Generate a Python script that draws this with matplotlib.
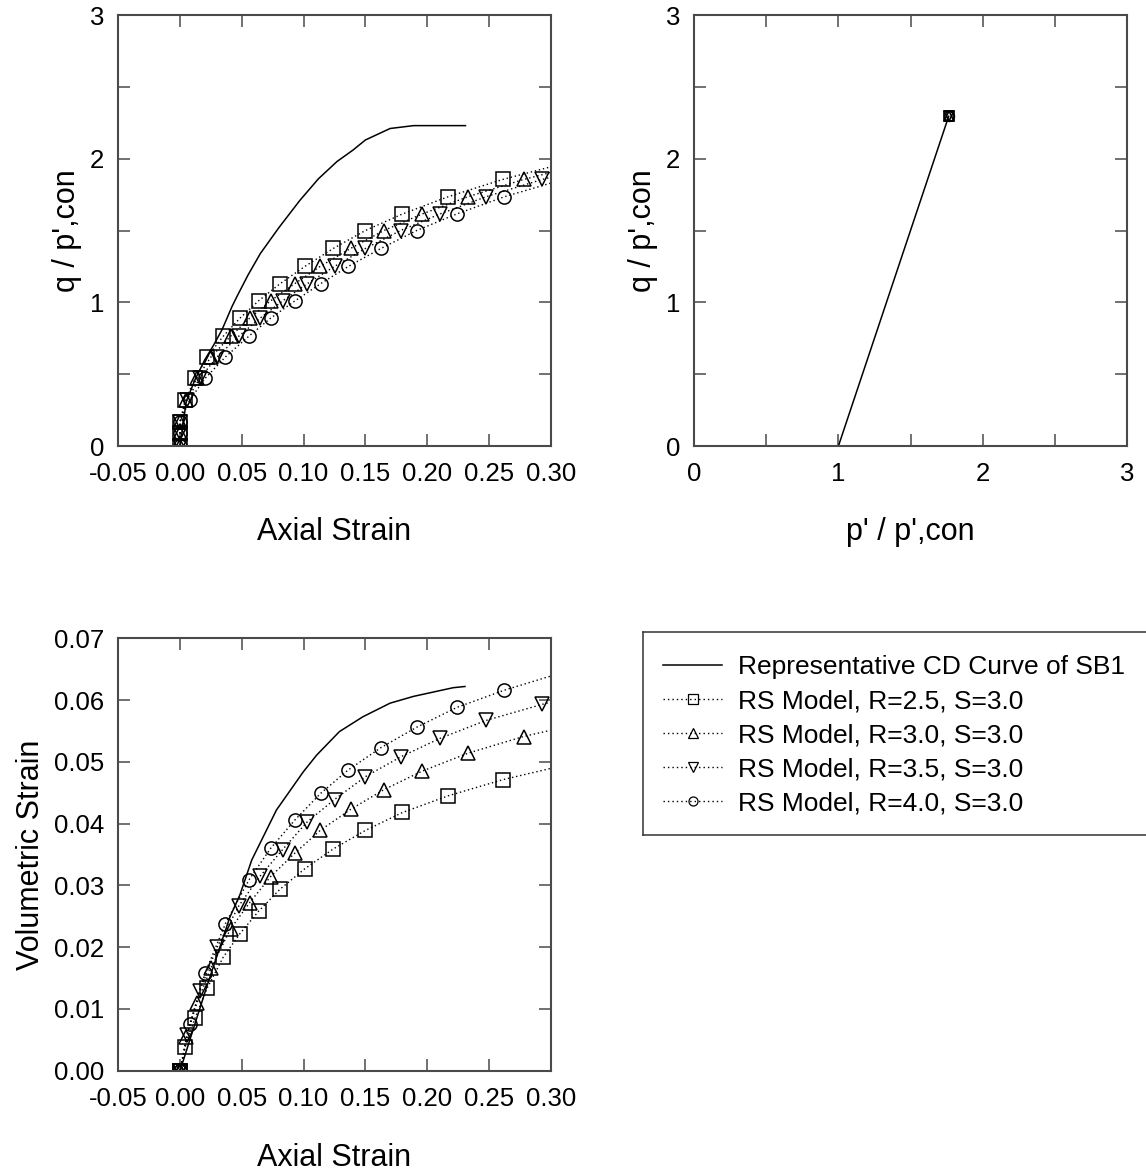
import matplotlib
matplotlib.use("Agg")
import matplotlib.pyplot as plt
from matplotlib.lines import Line2D
from matplotlib.ticker import MultipleLocator, FormatStrFormatter

plt.rcParams['font.family'] = ['Liberation Sans', 'DejaVu Sans']
plt.rcParams['axes.unicode_minus'] = False

# ---- Representative CD curve of SB1 ----
cd_strain_q = [0, 0.005, 0.012, 0.020, 0.027, 0.034, 0.042, 0.046, 0.055, 0.065,
               0.080, 0.097, 0.112, 0.127, 0.140, 0.150, 0.170, 0.189, 0.231]
cd_q = [0, 0.31, 0.46, 0.60, 0.70, 0.81, 0.97, 1.04, 1.19, 1.34,
        1.52, 1.71, 1.86, 1.98, 2.06, 2.13, 2.21, 2.23, 2.23]

cd_strain_v = [0, 0.010, 0.0216, 0.035, 0.0404, 0.0485, 0.058, 0.078, 0.0998,
               0.1106, 0.129, 0.148, 0.170, 0.189, 0.221, 0.2306]
cd_vol = [0, 0.0063, 0.0136, 0.0217, 0.0249, 0.0285, 0.0341, 0.0422, 0.0484,
          0.0511, 0.0549, 0.0573, 0.0595, 0.0606, 0.0620, 0.0622]

cd_p = [1.0, 1.765]
cd_pq = [0.0, 2.295]

# ---- RS model runs (S = 3.0) ----
q_levels = [0, 0.09, 0.17, 0.32, 0.47, 0.62, 0.765, 0.89, 1.01, 1.13, 1.25,
            1.375, 1.50, 1.615, 1.735, 1.855, 1.97]

strain_r25 = [0, 0, 0, 0.0042, 0.0121, 0.022, 0.035, 0.0485, 0.0635, 0.081, 0.101,
              0.124, 0.150, 0.180, 0.217, 0.261, 0.312]
strain_r30 = [0, 0, 0, 0.0052, 0.0135, 0.025, 0.041, 0.0563, 0.0732, 0.0928, 0.1134,
              0.138, 0.165, 0.196, 0.233, 0.278, 0.330]
strain_r35 = [0, 0, 0, 0.0057, 0.0158, 0.030, 0.0476, 0.0648, 0.083, 0.103, 0.125,
              0.150, 0.1785, 0.2104, 0.2476, 0.293, 0.345]
strain_r40 = [0, 0, 0, 0.0078, 0.0202, 0.0367, 0.0558, 0.0733, 0.093, 0.1138, 0.1362,
              0.1626, 0.1915, 0.2239, 0.2625, 0.310]

vol_r25 = [0, 0, 0, 0.0039, 0.0085, 0.0134, 0.0184, 0.0222, 0.0258, 0.0294, 0.0327,
           0.0359, 0.0389, 0.0418, 0.0445, 0.0471, 0.0495]
vol_r30 = [0, 0, 0, 0.0055, 0.0109, 0.0166, 0.0230, 0.0272, 0.0314, 0.0352, 0.0389,
           0.0423, 0.0455, 0.0485, 0.0514, 0.0541, 0.0565]
vol_r35 = [0, 0, 0, 0.0058, 0.0129, 0.0200, 0.0267, 0.0315, 0.0358, 0.0403, 0.0439,
           0.0476, 0.0508, 0.0538, 0.0567, 0.0593, 0.0620]
vol_r40 = [0, 0, 0, 0.0075, 0.0158, 0.0238, 0.0309, 0.0360, 0.0406, 0.0449, 0.0487,
           0.0523, 0.0556, 0.0588, 0.0616, 0.0645]

# final stress state in p'-q space
p_final = [1.765, 1.765, 1.765, 1.765]
q_final = [2.295, 2.295, 2.295, 2.295]

labels = ["RS Model, R=2.5, S=3.0", "RS Model, R=3.0, S=3.0",
          "RS Model, R=3.5, S=3.0", "RS Model, R=4.0, S=3.0"]
markers = ['s', '^', 'v', 'o']
strains = [strain_r25, strain_r30, strain_r35, strain_r40]
vols = [vol_r25, vol_r30, vol_r35, vol_r40]

FRAME = '#4a4a4a'
DOT = (0, (1, 2.0))
TICK_FS = 18.5
LABEL_FS = 22

W, H = 1146, 1173
fig = plt.figure(figsize=(W / 100, H / 100), dpi=100)


def frac(left, top, right, bottom):
    return [left / W, 1 - bottom / H, (right - left) / W, (bottom - top) / H]


def style(ax):
    for s in ax.spines.values():
        s.set_color(FRAME)
        s.set_linewidth(1.5)
    ax.tick_params(which='both', direction='in', top=True, right=True,
                   length=8.5, width=1.1, color=FRAME, labelsize=TICK_FS)
    ax.tick_params(axis='x', which='both', pad=11.5)
    ax.tick_params(axis='y', which='both', pad=10)


# q vs axial strain
ax1 = fig.add_axes(frac(118.3, 15, 550.7, 446))
ax1.plot(cd_strain_q, cd_q, color='black', lw=1.1)
for st, m in zip(strains, markers):
    ax1.plot(st, q_levels[:len(st)], color='black', lw=1.0, ls=DOT, marker=m,
             ms=9.5, mfc='none', mec='black', mew=1.1)
ax1.set_xlim(-0.05, 0.30)
ax1.set_ylim(0, 3)
ax1.xaxis.set_major_locator(MultipleLocator(0.05))
ax1.xaxis.set_major_formatter(FormatStrFormatter('%.2f'))
ax1.yaxis.set_major_locator(MultipleLocator(1))
ax1.yaxis.set_minor_locator(MultipleLocator(0.5))
style(ax1)
ax1.set_xlabel("Axial Strain", fontsize=LABEL_FS)
ax1.set_ylabel("q / p',con", fontsize=LABEL_FS)
ax1.xaxis.set_label_coords(0.5, -0.165)
ax1.yaxis.set_label_coords(-0.084, 0.5)

# q vs p'
ax2 = fig.add_axes(frac(694.3, 15, 1126.7, 446))
ax2.plot(cd_p, cd_pq, color='black', lw=1.1)
for pf, qf, m in zip(p_final, q_final, markers):
    ax2.plot([pf], [qf], ls='none', marker=m, ms=7, mfc='none', mec='black', mew=1.2)
ax2.set_xlim(0, 3)
ax2.set_ylim(0, 3)
ax2.xaxis.set_major_locator(MultipleLocator(1))
ax2.xaxis.set_minor_locator(MultipleLocator(0.5))
ax2.yaxis.set_major_locator(MultipleLocator(1))
ax2.yaxis.set_minor_locator(MultipleLocator(0.5))
style(ax2)
ax2.set_xlabel("p' / p',con", fontsize=LABEL_FS)
ax2.set_ylabel("q / p',con", fontsize=LABEL_FS)
ax2.xaxis.set_label_coords(0.5, -0.165)
ax2.yaxis.set_label_coords(-0.085, 0.5)

# volumetric strain vs axial strain
ax3 = fig.add_axes(frac(118.3, 638.3, 550.7, 1070.7))
ax3.plot(cd_strain_v, cd_vol, color='black', lw=1.1)
for st, v, m in zip(strains, vols, markers):
    ax3.plot(st, v, color='black', lw=1.0, ls=DOT, marker=m,
             ms=9.5, mfc='none', mec='black', mew=1.1)
ax3.set_xlim(-0.05, 0.30)
ax3.set_ylim(0, 0.07)
ax3.xaxis.set_major_locator(MultipleLocator(0.05))
ax3.xaxis.set_major_formatter(FormatStrFormatter('%.2f'))
ax3.yaxis.set_major_locator(MultipleLocator(0.01))
ax3.yaxis.set_major_formatter(FormatStrFormatter('%.2f'))
style(ax3)
ax3.set_xlabel("Axial Strain", fontsize=LABEL_FS)
ax3.set_ylabel("Volumetric Strain", fontsize=LABEL_FS)
ax3.xaxis.set_label_coords(0.5, -0.167)
ax3.yaxis.set_label_coords(-0.168, 0.5)

# legend panel (open on the right edge of the figure)
axl = fig.add_axes(frac(643, 632, 1160, 835))
axl.set_xticks([])
axl.set_yticks([])
for s in axl.spines.values():
    s.set_color('#333333')
    s.set_linewidth(1.1)
handles = [Line2D([], [], color='black', lw=1.1)]
for m in markers:
    handles.append(Line2D([], [], color='black', lw=1.0, ls=(0, (1, 2.2)), marker=m,
                          ms=6.5, mfc='none', mec='black', mew=0.9))
axl.legend(handles, ["Representative CD Curve of SB1"] + labels,
           loc='upper left', bbox_to_anchor=(663 / W, 1 - 655 / H),
           bbox_transform=fig.transFigure, frameon=False, fontsize=19,
           handlelength=2.25, handletextpad=0.6, labelspacing=0.38,
           borderpad=0, borderaxespad=0)

fig.savefig("out.png", dpi=100)
